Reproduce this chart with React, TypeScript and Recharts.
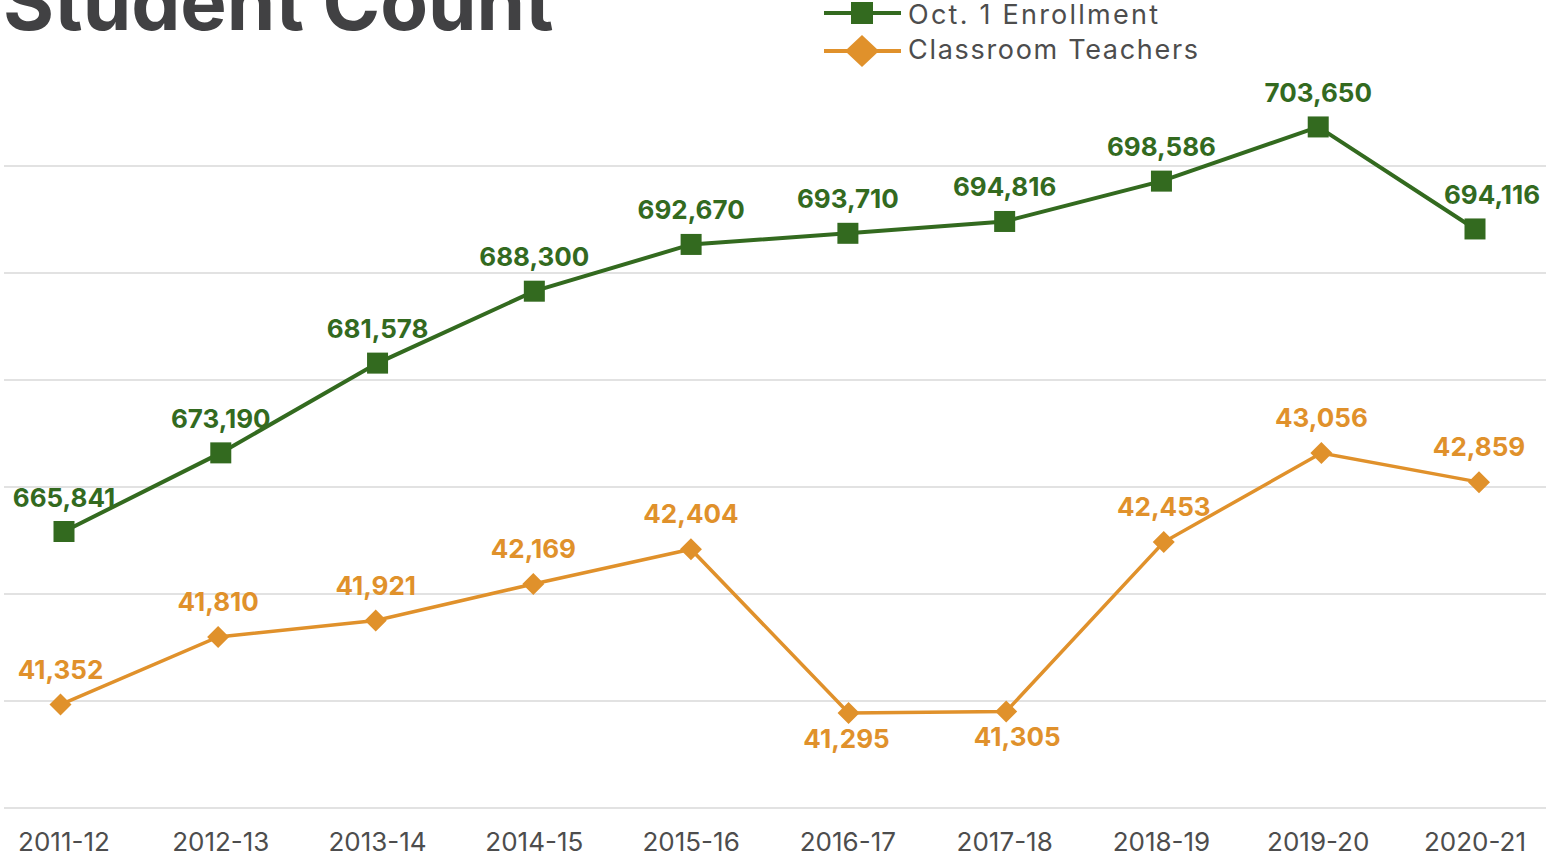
import { CartesianGrid, Line, LineChart, XAxis, YAxis } from "recharts";

const years = ["2011-12", "2012-13", "2013-14", "2014-15", "2015-16", "2016-17", "2017-18", "2018-19", "2019-20", "2020-21"];
const enrollment = [665841, 673190, 681578, 688300, 692670, 693710, 694816, 698586, 703650, 694116];
const teachers = [41352, 41810, 41921, 42169, 42404, 41295, 41305, 42453, 43056, 42859];
const enrollmentTicks = [640000, 650000, 660000, 670000, 680000, 690000, 700000];

// label tweaks (not data): which teacher labels sit under the point, and sideways nudges
const teacherBelow = [false, false, false, false, false, true, true, false, false, false];
const teacherShift = [0, 0, 0, 0, 0, -2, 11, 0, 0, 0];
const enrollmentShift = [0, 0, 0, 0, 0, 0, 0, 0, 0, 17];

const GREEN = "#336a1f";
const ORANGE = "#e0912b";
const FONT = "Inter, 'Noto Sans', sans-serif";

const data = years.map((year, i) => ({ year, enrollment: enrollment[i], teachers: teachers[i] }));

const fmt = (v: number) => v.toLocaleString("en-US");

function Square(props: any) {
  const { cx, cy, index } = props;
  return <rect key={`sq-${index}`} x={cx - 10.5} y={cy - 10.5} width={21} height={21} fill={GREEN} />;
}

function Diamond(props: any) {
  const { cx, cy, index } = props;
  return (
    <path
      key={`dm-${index}`}
      d={`M${cx},${cy - 11} L${cx + 11},${cy} L${cx},${cy + 11} L${cx - 11},${cy} Z`}
      fill={ORANGE}
    />
  );
}

function EnrollmentLabel(props: any) {
  const { x, y, value, index } = props;
  return (
    <text key={`el-${index}`} x={x + enrollmentShift[index]} y={y - 25} textAnchor="middle"
      fill={GREEN} fontSize={26} fontWeight={700} fontFamily={FONT}>
      {fmt(value)}
    </text>
  );
}

function TeacherLabel(props: any) {
  const { x, y, value, index } = props;
  const below = teacherBelow[index];
  return (
    <text key={`tl-${index}`} x={x + teacherShift[index]} y={below ? y + 35 : y - 26} textAnchor="middle"
      fill={ORANGE} fontSize={26} fontWeight={700} fontFamily={FONT}>
      {fmt(value)}
    </text>
  );
}

function gridRows(props: any) {
  const scale = props?.yAxis?.scale;
  if (typeof scale !== "function") return [166, 273, 380, 487, 594, 701, 808];
  return enrollmentTicks.map((t) => scale(t));
}

export default function App() {
  return (
    <div style={{ position: "absolute", left: 0, top: 0, width: 1546, height: 855, overflow: "hidden", background: "#fff" }}>
      <LineChart width={1546} height={855} data={data} margin={{ top: 59, right: 0, bottom: 0, left: 4 }}>
        <CartesianGrid
          horizontal
          vertical={false}
          stroke="#d9d9d9"
          strokeWidth={1.5}
          xAxisId="g"
          yAxisId="g"
          horizontalCoordinatesGenerator={gridRows}
        />
        <XAxis
          xAxisId="g"
          dataKey="year"
          interval={0}
          height={47}
          padding={{ left: 60, right: 71 }}
          axisLine={false}
          tickLine={false}
          tickMargin={19}
          tick={{ fontSize: 26, fill: "#4d4d4d", fontFamily: FONT }}
        />
        <XAxis xAxisId="t" dataKey="year" hide padding={{ left: 56.5, right: 67 }} />
        <YAxis yAxisId="g" hide domain={[640000, 710000]} ticks={enrollmentTicks} allowDataOverflow />
        <YAxis yAxisId="t" hide domain={[40651, 45726]} allowDataOverflow />
        <Line
          xAxisId="g"
          yAxisId="g"
          dataKey="enrollment"
          stroke={GREEN}
          strokeWidth={4}
          dot={Square}
          label={EnrollmentLabel}
          isAnimationActive={false}
        />
        <Line
          xAxisId="t"
          yAxisId="t"
          dataKey="teachers"
          stroke={ORANGE}
          strokeWidth={3.5}
          dot={Diamond}
          label={TeacherLabel}
          isAnimationActive={false}
        />
      </LineChart>
      <svg width={1546} height={855} style={{ position: "absolute", left: 0, top: 0, pointerEvents: "none" }}>
        <text x={3} y={30} fill="#414143" fontSize={78} fontWeight={700} fontFamily={FONT}>
          Student Count
        </text>
        <line x1={824} x2={901} y1={13} y2={13} stroke={GREEN} strokeWidth={4} />
        <rect x={851} y={2} width={22} height={22} fill={GREEN} />
        <text x={908} y={24} fill="#4d4d4d" fontSize={27} fontFamily={FONT} textLength={250} lengthAdjust="spacing">
          Oct. 1 Enrollment
        </text>
        <line x1={824} x2={901} y1={51} y2={51} stroke={ORANGE} strokeWidth={4} />
        <path d="M862,35 L879,51 L862,67 L845,51 Z" fill={ORANGE} />
        <text x={908} y={59} fill="#4d4d4d" fontSize={27} fontFamily={FONT} textLength={290} lengthAdjust="spacing">
          Classroom Teachers
        </text>
      </svg>
    </div>
  );
}
